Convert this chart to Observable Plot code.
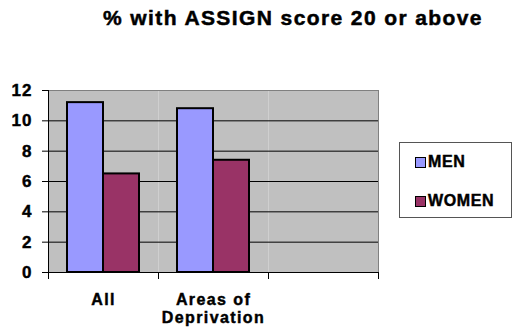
<!DOCTYPE html>
<html>
<head>
<meta charset="utf-8">
<script src="https://cdn.jsdelivr.net/npm/d3@7"></script>
<script src="https://cdn.jsdelivr.net/npm/@observablehq/plot@0.6"></script>
<style>
  body { margin: 0; background: #fff; font-family: "Liberation Sans", Arial, sans-serif; }
  #chart { position: relative; width: 512px; height: 330px; overflow: hidden; }
  #title {
    position: absolute; left: 0; top: 7px; width: 586px;
    text-align: center; font-weight: 700; font-size: 21px; line-height: 21px;
    letter-spacing: 1.4px; white-space: nowrap; -webkit-text-stroke: 0.5px #000;
  }
  #plot { position: absolute; left: 0; top: 40px; }
  #plot svg text {
    font-family: "Liberation Sans", Arial, sans-serif; font-weight: 700;
    stroke: #000; stroke-width: 0.45px; fill: #000;
  }
  #plot [aria-label="y-axis tick label"] text { font-size: 17px; letter-spacing: 1px; }
  #plot [aria-label="fx-axis tick label"] text { font-size: 16px; letter-spacing: 1.4px; }
  #legend {
    position: absolute; left: 399px; top: 142px; width: 113px; height: 76px;
    box-sizing: border-box; border: 1px solid #555; background: #fff;
  }
  .legend-row {
    position: absolute; left: 15px; height: 20px;
    display: flex; align-items: center;
    font-weight: 700; font-size: 16px; letter-spacing: 0.6px;
    -webkit-text-stroke: 0.45px #000;
  }
  .legend-swatch {
    width: 11px; height: 11px; box-sizing: border-box;
    border: 1.5px solid #000; margin-right: 2px;
  }
</style>
</head>
<body>
<div id="chart">
  <div id="title"></div>
  <div id="plot"></div>
  <div id="legend"></div>
</div>
<script>
// Share of people with an ASSIGN cardiovascular risk score of 20 or above
const titleText = "% with ASSIGN score 20 or above";
const categories = ["All", "Areas of Deprivation", ""];
const seriesNames = ["MEN", "WOMEN"];
const menValues = [11.2, 10.8, null];
const womenValues = [6.5, 7.4, null];
const yTicks = [0, 2, 4, 6, 8, 10, 12];
const seriesColors = ["#9999FF", "#993366"];

// One row per category and sex; the third category slot is left empty
const rows = categories.flatMap((category, i) => [
  {category, series: seriesNames[0], value: menValues[i]},
  {category, series: seriesNames[1], value: womenValues[i]}
]);

const W = 512, H = 290;
const M = {top: 50, right: 134, bottom: 58, left: 48};
const plotHeight = H - M.top - M.bottom;

const chart = Plot.plot({
  width: W,
  height: H,
  marginTop: M.top,
  marginRight: M.right,
  marginBottom: M.bottom,
  marginLeft: M.left,
  style: {
    fontFamily: "'Liberation Sans', Arial, sans-serif",
    fontWeight: "bold",
    fontSize: "16px",
    color: "#000",
    background: "transparent",
    overflow: "visible"
  },
  fx: {domain: categories, padding: 0, label: null},
  x: {domain: seriesNames, paddingInner: 0, paddingOuter: 0.5, axis: null},
  y: {domain: [0, 12], label: null},
  color: {domain: seriesNames, range: seriesColors},
  marks: [
    // grey plot area, gridlines and outer border
    Plot.frame({fill: "#c0c0c0"}),
    Plot.ruleY(yTicks.filter((v) => v > 0 && v < 12), {stroke: "#000", strokeWidth: 1}),
    Plot.frame({anchor: "top", stroke: "#808080"}),
    Plot.frame({anchor: "right", stroke: "#808080", facetAnchor: "right"}),
    // grouped bars
    Plot.barY(rows, {
      fx: "category",
      x: "series",
      y: "value",
      fill: "series",
      stroke: "#000",
      strokeWidth: 2
    }),
    // axis lines and the tick marks between categories
    Plot.ruleY([0], {stroke: "#000"}),
    Plot.frame({anchor: "left", stroke: "#000", facetAnchor: "left"}),
    Plot.frame({anchor: "left", stroke: "#000", insetTop: plotHeight, insetBottom: -6}),
    Plot.frame({anchor: "right", stroke: "#000", insetTop: plotHeight, insetBottom: -6, facetAnchor: "right"}),
    Plot.axisY({ticks: yTicks, tickSize: 6, tickPadding: 10, label: null, fontWeight: "bold"}),
    Plot.axisFx({anchor: "bottom", tickSize: 0, tickPadding: 19, label: null, lineWidth: 7, lineHeight: 1.15, fontWeight: "bold"})
  ]
});

document.getElementById("plot").appendChild(chart);
document.getElementById("title").textContent = titleText;

// Legend built from the plot's own colour scale
const color = chart.scale("color");
const legend = d3.select("#legend");
const rowTops = [9, 48];
color.domain.forEach((name, i) => {
  const row = legend.append("div").attr("class", "legend-row").style("top", rowTops[i] + "px");
  row.append("div").attr("class", "legend-swatch").style("background", color.range[i]);
  row.append("span").text(name);
});
</script>
</body>
</html>
